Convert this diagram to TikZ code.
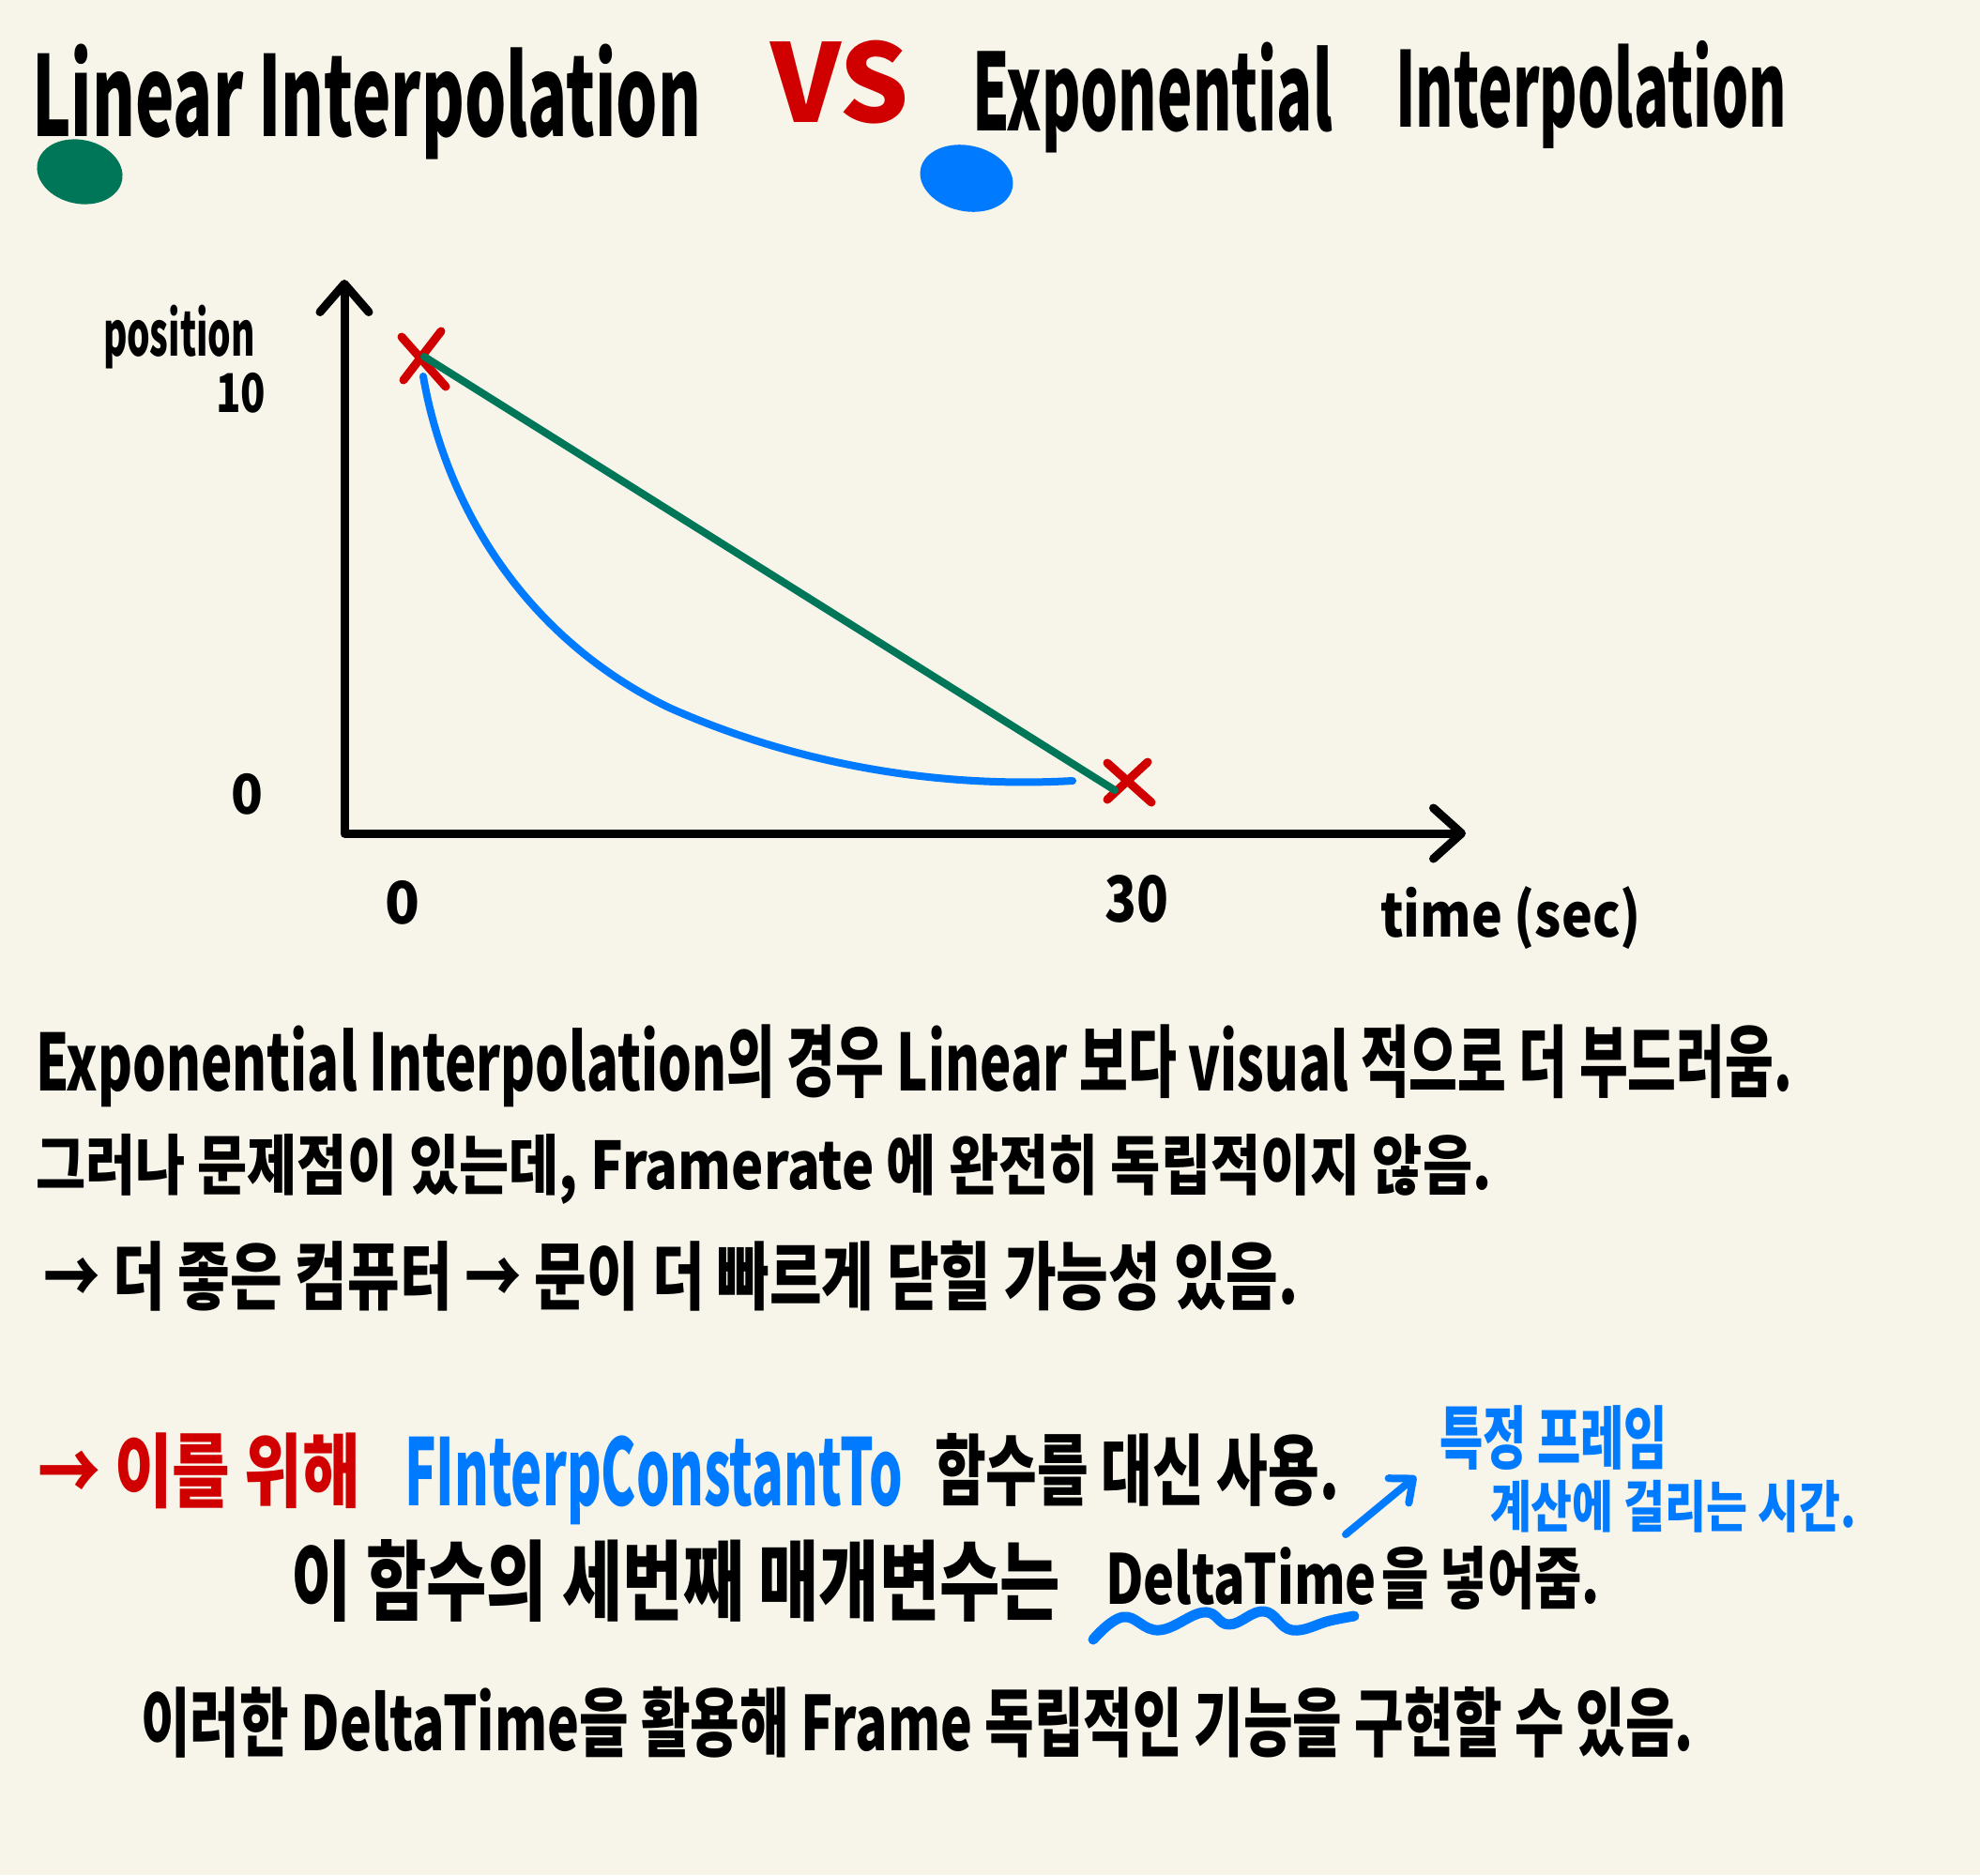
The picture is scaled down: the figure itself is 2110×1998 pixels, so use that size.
\documentclass[tikz,border=0pt]{standalone}
\usepackage{fontspec}
\setmainfont{Noto Sans CJK KR}
\usepackage{graphicx}
\usetikzlibrary{arrows.meta}
\definecolor{bgc}{RGB}{247,245,234}
\definecolor{mygreen}{RGB}{0,118,88}
\definecolor{myblue}{RGB}{0,122,255}
\definecolor{myred}{RGB}{208,0,0}
\newcommand{\fitink}[3]{\resizebox*{#1}{#2}{#3}}
\begin{document}
\begin{tikzpicture}[x=1pt,y=-1pt,
  txt/.style={inner sep=0pt, outer sep=0pt, anchor=north west, font=\bfseries},
  axisline/.style={line width=9pt, line cap=round, line join=round,
    {Straight Barb[length=30pt,width=52pt,line cap=round,line join=round]}-{Straight Barb[length=30pt,width=54pt,line cap=round,line join=round]}},
  crossmark/.style={myred, line width=9pt, line cap=round},
  linearline/.style={mygreen, line width=8pt, line cap=round},
  expcurve/.style={myblue, line width=8pt, line cap=round, line join=round},
  notearrow/.style={myblue, line width=8pt, line cap=round,
    -{Straight Barb[length=20pt,width=34pt,line cap=round,line join=round]}},
  wavy/.style={myblue, line width=11pt, line cap=round, line join=round}]

\fill[bgc] (0,0) rectangle (2110,1998);
\useasboundingbox (0,0) rectangle (2110,1998);

% title
\node[txt] (t1) at (34,47) {\fitink{713pt}{123pt}{Linear Interpolation}};
\node[txt, text=myred] (vs) at (821,43) {\fitink{148pt}{89pt}{VS}};
\node[txt] (t2) at (1036,45) {\fitink{384pt}{118pt}{Exponential}};
\node[txt] (t3) at (1487,43) {\fitink{417pt}{115pt}{Interpolation}};

% colour blobs
\fill[mygreen, rotate around={-12:(85,183)}] (85,183) ellipse [x radius=46, y radius=34];
\fill[myblue, rotate around={-12:(1030,190)}] (1030,190) ellipse [x radius=50, y radius=35];

% axes
\coordinate (ytop) at (367,298);
\coordinate (origin) at (367,888);
\coordinate (xend) at (1562,888);
\draw[axisline] (ytop) -- (origin) -- (xend);

% graph labels
\node[txt] (pos) at (110,325) {\fitink{162pt}{68pt}{position}};
\node[txt] (ten) at (230,397) {\fitink{53pt}{43pt}{10}};
\node[txt] (zeroy) at (246,824) {\fitink{34pt}{44pt}{0}};
\node[txt] (zerox) at (410,938) {\fitink{37pt}{47pt}{0}};
\node[txt] (thirty) at (1177,932) {\fitink{68pt}{51pt}{30}};
\node[txt] (time) at (1471,945) {\fitink{278pt}{67pt}{time (sec)}};

% red crosses
\coordinate (s1a) at (428,359); \coordinate (s1b) at (475,412);
\coordinate (s2a) at (470,353); \coordinate (s2b) at (430,405);
\draw[crossmark] (s1a) -- (s1b);
\draw[crossmark] (s2a) -- (s2b);
\coordinate (e1a) at (1180,813); \coordinate (e1b) at (1227,855);
\coordinate (e2a) at (1223,812); \coordinate (e2b) at (1180,852);
\draw[crossmark] (e1a) -- (e1b);
\draw[crossmark] (e2a) -- (e2b);

% linear interpolation
\coordinate (linA) at (452,380);
\coordinate (linB) at (1188,842);
\draw[linearline] (linA) -- (linB);

% exponential interpolation
\coordinate (expA) at (451,401);
\coordinate (expM) at (713,754);
\coordinate (expB) at (1143,832);
\draw[expcurve] (expA) .. controls (475,540) and (560,680) .. (expM)
  .. controls (850,815) and (1000,840) .. (expB);

% body text
\node[txt] (l1) at (38,1092) {\fitink{1872pt}{88pt}{Exponential Interpolation의 경우 Linear 보다 visual 적으로 더 부드러움.}};
\node[txt] (l2) at (38,1208) {\fitink{1551pt}{75pt}{그러나 문제점이 있는데, Framerate 에 완전히 독립적이지 않음.}};
\node[txt] (l3) at (46,1322) {\fitink{1337pt}{75pt}{→ 더 좋은 컴퓨터 → 문이 더 빠르게 닫힐 가능성 있음.}};

\node[txt, text=myred] (l4a) at (40,1527) {\fitink{344pt}{81pt}{→ 이를 위해}};
\node[txt, text=myblue] (l4b) at (431,1530) {\fitink{531pt}{95pt}{FInterpConstantTo}};
\node[txt] (l4c) at (996,1527) {\fitink{431pt}{78pt}{함수를 대신 사용.}};

\node[txt, text=myblue] (n1) at (1534,1498) {\fitink{243pt}{69pt}{특정 프레임}};
\node[txt, text=myblue] (n2) at (1588,1577) {\fitink{390pt}{56pt}{계산에 걸리는 시간.}};

\node[txt] (l5a) at (310,1640) {\fitink{820pt}{88pt}{이 함수의 세번째 매개변수는}};
\node[txt] (l5b) at (1178,1648) {\fitink{289pt}{62pt}{DeltaTime}};
\node[txt] (l5c) at (1472,1647) {\fitink{233pt}{68pt}{을 넣어줌.}};

\node[txt] (l6) at (150,1797) {\fitink{1655pt}{76pt}{이러한 DeltaTime을 활용해 Frame 독립적인 기능을 구현할 수 있음.}};

% wavy underline under DeltaTime
\draw[wavy] plot[smooth, tension=0.7] coordinates {
  (1165,1747) (1197,1723) (1235,1737) (1283,1718) (1310,1731)
  (1347,1717) (1377,1737) (1417,1727) (1443,1722)};

% note arrow
\coordinate (arS) at (1434,1635);
\coordinate (arE) at (1509,1573);
\draw[notearrow] (arS) -- (arE);

\end{tikzpicture}
\end{document}
